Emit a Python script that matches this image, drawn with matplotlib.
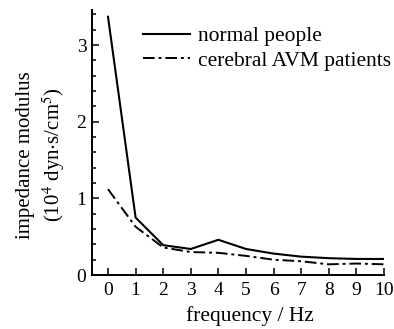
import matplotlib
matplotlib.use("Agg")
import matplotlib.pyplot as plt
from matplotlib.ticker import MultipleLocator

plt.rcParams['font.family'] = ['Liberation Serif', 'DejaVu Serif']
plt.rcParams['mathtext.fontset'] = 'stix'

freq = [0, 1, 2, 3, 4, 5, 6, 7, 8, 9, 10]
normal = [3.37, 0.75, 0.39, 0.34, 0.46, 0.34, 0.28, 0.24, 0.22, 0.21, 0.21]
avm = [1.12, 0.63, 0.36, 0.30, 0.29, 0.25, 0.20, 0.18, 0.14, 0.15, 0.14]
labels = ["normal people", "cerebral AVM patients"]

fig = plt.figure(figsize=(3.94, 3.29), dpi=100)
ax = fig.add_axes([0.2335, 0.164, 0.741, 0.806])
ax.plot(freq, normal, color='black', lw=1.5, label=labels[0])
ax.plot(freq, avm, color='black', lw=1.4, linestyle=(0, (6, 2, 1.5, 2)), label=labels[1])

ax.set_xlim(-0.58, 10)
ax.set_ylim(0, 3.46)
ax.set_xticks(range(0, 11))
ax.set_yticks([0, 1, 2, 3])
ax.yaxis.set_minor_locator(MultipleLocator(0.2))
ax.tick_params(axis='both', which='both', direction='in', labelsize=14, width=1.1)
ax.tick_params(axis='both', which='major', length=5)
ax.tick_params(axis='y', which='minor', length=3)
ax.tick_params(axis='x', pad=5)
ax.tick_params(axis='y', pad=4)
for s in ['top', 'right']:
    ax.spines[s].set_visible(False)
for s in ['left', 'bottom']:
    ax.spines[s].set_linewidth(1.4)

ax.set_xlabel("frequency / Hz", fontsize=15.5, labelpad=1)
ax.xaxis.set_label_coords(0.541, -0.118, transform=ax.transAxes)
ax.xaxis.label.set_verticalalignment('top')
ax.set_ylabel("impedance modulus\n(10$^4$ dyn$\\cdot$s/cm$^5$)", fontsize=15, labelpad=3, linespacing=1.3)
ax.yaxis.set_label_coords(-0.085, 0.453, transform=ax.transAxes)
ax.yaxis.label.set_verticalalignment('bottom')

leg = ax.legend(loc='upper right', bbox_to_anchor=(1.075, 0.995), frameon=False, fontsize=15.5,
                handlelength=2.2, handletextpad=0.35, labelspacing=0.2, borderaxespad=0.3)

fig.savefig("out.png", dpi=100)
